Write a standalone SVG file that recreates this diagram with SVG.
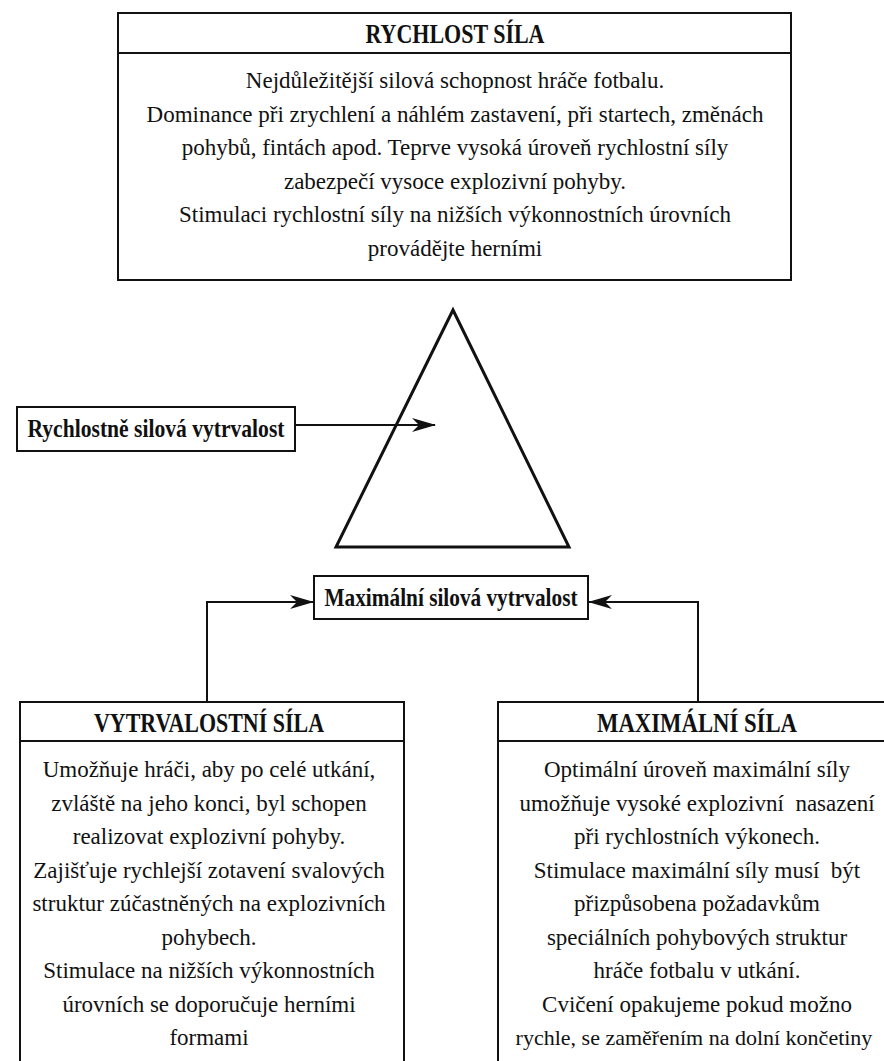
<svg xmlns="http://www.w3.org/2000/svg" width="884" height="1061" viewBox="0 0 884 1061">
<defs>
<style>
.box{fill:#fff;stroke:#111;stroke-width:2}
.ln{fill:none;stroke:#111;stroke-width:2}
.tri{fill:#fff;stroke:#111;stroke-width:3;stroke-linejoin:miter}
.t{font-family:"Liberation Serif","Times New Roman","DejaVu Serif",serif;font-size:23px;fill:#111;text-anchor:middle}
.b{font-family:"Liberation Serif","Times New Roman","DejaVu Serif",serif;font-weight:bold;font-size:26px;fill:#111;text-anchor:middle}
.h{font-family:"Liberation Serif","Times New Roman","DejaVu Serif",serif;font-weight:bold;font-size:27px;fill:#111;text-anchor:middle}
</style>
<marker id="arr" viewBox="0 0 24 14" refX="23" refY="7" markerWidth="24" markerHeight="14" markerUnits="userSpaceOnUse" orient="auto">
<path d="M0,0 L24,7 L0,14 L7,7 Z" fill="#111"/>
</marker>
</defs>
<rect width="884" height="1061" fill="#fff"/>

<g id="rychlost-sila">
<rect class="box" x="118" y="13" width="673" height="267"/>
<line class="ln" x1="118" y1="53" x2="791" y2="53"/>
<text class="h" x="455" y="43" textLength="179" lengthAdjust="spacingAndGlyphs">RYCHLOST SÍLA</text>
<text class="t" x="455" y="88">Nejdůležitější silová schopnost hráče fotbalu.</text>
<text class="t" x="455" y="121.5">Dominance při zrychlení a náhlém zastavení, při startech, změnách</text>
<text class="t" x="455" y="155">pohybů, fintách apod. Teprve vysoká úroveň rychlostní síly</text>
<text class="t" x="455" y="188.5">zabezpečí vysoce explozivní pohyby.</text>
<text class="t" x="455" y="222">Stimulaci rychlostní síly na nižších výkonnostních úrovních</text>
<text class="t" x="455" y="255.5">provádějte herními</text>
</g>

<g id="triangle">
<polygon class="tri" points="453,310 336,547 569,547"/>
</g>

<g id="rychlostne-silova-vytrvalost">
<rect class="box" x="17" y="407" width="278" height="44"/>
<text class="b" x="156" y="437" textLength="257" lengthAdjust="spacingAndGlyphs">Rychlostně silová vytrvalost</text>
</g>

<g id="maximalni-silova-vytrvalost">
<rect class="box" x="314" y="576" width="274" height="43"/>
<text class="b" x="451" y="606" textLength="253" lengthAdjust="spacingAndGlyphs">Maximální silová vytrvalost</text>
</g>

<g id="vytrvalostni-sila">
<rect class="box" x="20" y="702" width="384" height="380"/>
<line class="ln" x1="20" y1="741" x2="404" y2="741"/>
<text class="h" x="209" y="732" textLength="230" lengthAdjust="spacingAndGlyphs">VYTRVALOSTNÍ SÍLA</text>
<text class="t" x="209" y="777">Umožňuje hráči, aby po celé utkání,</text>
<text class="t" x="209" y="810.5">zvláště na jeho konci, byl schopen</text>
<text class="t" x="209" y="844">realizovat explozivní pohyby.</text>
<text class="t" x="209" y="877.5">Zajišťuje rychlejší zotavení svalových</text>
<text class="t" x="209" y="911">struktur zúčastněných na explozivních</text>
<text class="t" x="209" y="944.5">pohybech.</text>
<text class="t" x="209" y="978">Stimulace na nižších výkonnostních</text>
<text class="t" x="209" y="1011.5">úrovních se doporučuje herními</text>
<text class="t" x="209" y="1045">formami</text>
</g>

<g id="maximalni-sila">
<rect class="box" x="498" y="702" width="400" height="380"/>
<line class="ln" x1="498" y1="741" x2="884" y2="741"/>
<text class="h" x="697" y="732" textLength="200" lengthAdjust="spacingAndGlyphs">MAXIMÁLNÍ SÍLA</text>
<text class="t" x="697" y="777">Optimální úroveň maximální síly</text>
<text class="t" x="697" y="810.5" xml:space="preserve">umožňuje vysoké explozivní  nasazení</text>
<text class="t" x="697" y="844">při rychlostních výkonech.</text>
<text class="t" x="697" y="877.5" xml:space="preserve">Stimulace maximální síly musí  být</text>
<text class="t" x="697" y="911">přizpůsobena požadavkům</text>
<text class="t" x="697" y="944.5">speciálních pohybových struktur</text>
<text class="t" x="697" y="978">hráče fotbalu v utkání.</text>
<text class="t" x="697" y="1011.5">Cvičení opakujeme pokud možno</text>
<text class="t" x="694" y="1045" style="font-size:22px">rychle, se zaměřením na dolní končetiny</text>
</g>

<g id="connectors">
<line class="ln" x1="295" y1="425" x2="435" y2="425" marker-end="url(#arr)"/>
<path class="ln" d="M207,702 V602 H313" marker-end="url(#arr)"/>
<path class="ln" d="M698,702 V602 H589" marker-end="url(#arr)"/>
</g>
</svg>
